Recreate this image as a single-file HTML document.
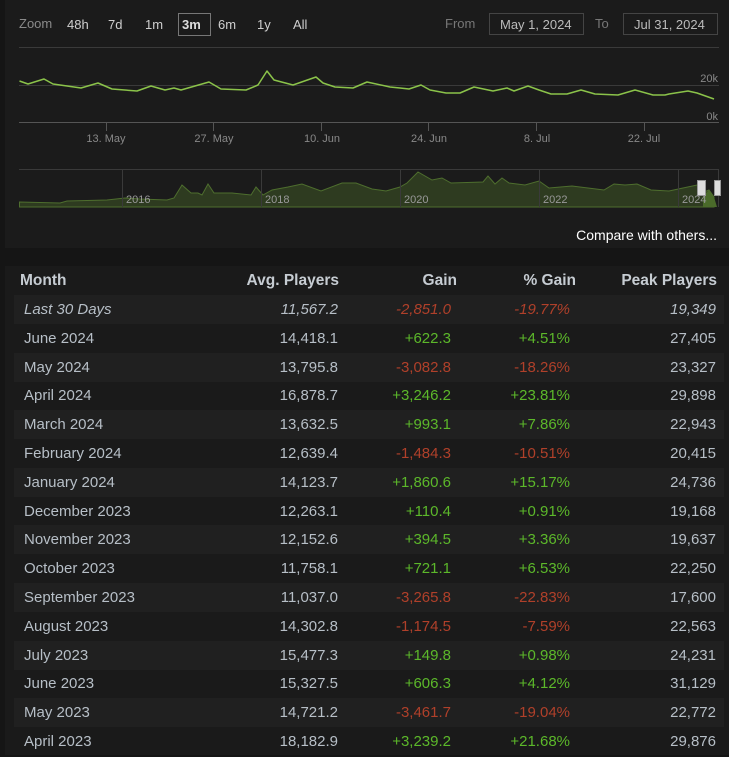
<!DOCTYPE html>
<html><head><meta charset="utf-8"><style>
body{margin:0;width:729px;height:755px;background:#151515;font-family:"Liberation Sans",sans-serif;overflow:hidden;position:relative}
.chart{position:absolute;left:5px;top:0;width:724px;height:248px;background:#1b1b1b}
.tbl{position:absolute;left:5px;top:266px;width:724px;height:489px;background:#1a1a1a}
.row{position:absolute;left:14px;width:710px;height:29px;font-size:15px;color:#b7bfc7;line-height:30px}
.row.l{background:#202020}
.row span{position:absolute;top:0}
.hd{font-weight:bold;color:#c6ccd2;font-size:15.5px}
.g{color:#5cb82a}.r{color:#b0402a}
</style></head><body>
<div class="chart"></div>
<svg style="position:absolute;left:0;top:0" width="729" height="250" font-family="Liberation Sans, sans-serif">
<g font-size="13" fill="#8a8a8a"><text x="19" y="28">Zoom</text></g>
<g font-size="13" fill="#cfcfcf"><text x="67" y="29">48h</text><text x="108" y="29">7d</text><text x="145" y="29">1m</text><text x="218" y="29">6m</text><text x="257" y="29">1y</text><text x="293" y="29">All</text></g>
<rect x="178.5" y="13.5" width="32" height="22" fill="none" stroke="#777"/>
<text x="182" y="29" font-size="13" font-weight="bold" fill="#ddd">3m</text>
<text x="445" y="28" font-size="13" fill="#777">From</text>
<rect x="489.5" y="13.5" width="94" height="21" fill="none" stroke="#444"/>
<text x="500" y="29" font-size="13" fill="#bbb">May 1, 2024</text>
<text x="595" y="28" font-size="13" fill="#777">To</text>
<rect x="623.5" y="13.5" width="94" height="21" fill="none" stroke="#444"/>
<text x="634" y="29" font-size="13" fill="#bbb">Jul 31, 2024</text>
<line x1="19" y1="47.5" x2="719" y2="47.5" stroke="#3a3a3a"/>
<line x1="19" y1="85.5" x2="719" y2="85.5" stroke="#3a3a3a"/>
<line x1="19" y1="122.5" x2="719" y2="122.5" stroke="#555"/>
<text x="718" y="82" font-size="11" fill="#888" text-anchor="end">20k</text>
<text x="718" y="120" font-size="11" fill="#888" text-anchor="end">0k</text>
<g stroke="#555"><line x1="106.5" y1="123" x2="106.5" y2="131"/><line x1="213.5" y1="123" x2="213.5" y2="131"/><line x1="321.5" y1="123" x2="321.5" y2="131"/><line x1="428.5" y1="123" x2="428.5" y2="131"/><line x1="536.5" y1="123" x2="536.5" y2="131"/><line x1="644.5" y1="123" x2="644.5" y2="131"/></g>
<g font-size="11" fill="#888" text-anchor="middle"><text x="106" y="142">13. May</text><text x="214" y="142">27. May</text><text x="322" y="142">10. Jun</text><text x="429" y="142">24. Jun</text><text x="537" y="142">8. Jul</text><text x="644" y="142">22. Jul</text></g>
<polyline fill="none" stroke="#8bc34a" stroke-width="1.5" stroke-linejoin="round" points="19.5,81 28,84 44,79 53,84 81,88 98,83 112,89 137,91 151,86 165,90 174,88 181,90 209,82 221,89 246,90 258,85 267,71 274,80 293,85 316,77 323,83 335,87 353,88 367,82 390,87 400,88 409,89 421,85 430,90 446,93 460,93 474,87 493,91 507,88 514,91 528,86 539,90 551,94 567,94 581,90 595,94 618,95 635,90 653,95 665,95 669,94 688,91 697,93 714,99"/>
<line x1="19" y1="169.5" x2="719" y2="169.5" stroke="#3a3a3a"/>
<path fill="#2e3b20" stroke="#4e6e2e" d="M19.5,207 L19.5,202 60,203 67,201 107,200 125,198 140,199 167,200 174,198 182,185 191,193 198,193 202,195 208,184 214,193 232,193 251,195 256,187 263,195 272,190 288,187 302,184 321,191 342,183 356,183 372,189 386,191 400,187 407,183 418,172 432,180 442,178 451,183 483,182 488,176 495,184 502,178 509,183 525,185 539,181 549,188 572,186 604,190 614,184 625,185 637,184 651,190 669,191 683,188 697,185 704,192 709,190 714,197 L714,207 Z"/>
<path fill="#4a6a2a" d="M703,207 L703,196 709,190 714,197 L717,207 Z"/>
<g stroke="#3a3a3a"><line x1="122.5" y1="170" x2="122.5" y2="207"/><line x1="261.5" y1="170" x2="261.5" y2="207"/><line x1="400.5" y1="170" x2="400.5" y2="207"/><line x1="539.5" y1="170" x2="539.5" y2="207"/><line x1="678.5" y1="170" x2="678.5" y2="207"/><line x1="718.5" y1="170" x2="718.5" y2="207"/></g>
<g font-size="11" fill="#999"><text x="126" y="203">2016</text><text x="265" y="203">2018</text><text x="404" y="203">2020</text><text x="543" y="203">2022</text><text x="682" y="203">2024</text></g>
<rect x="697.5" y="180.5" width="8" height="15" fill="#ddd" stroke="#999"/>
<rect x="714.5" y="180.5" width="6" height="15" fill="#ddd" stroke="#999"/>
<text x="717" y="240" font-size="14" fill="#fff" text-anchor="end">Compare with others...</text>
</svg>
<div class="tbl"></div>
<div class="row hd" style="top:266px"><span style="left:6px">Month</span><span style="right:385px">Avg. Players</span><span style="right:267px">Gain</span><span style="right:148px">% Gain</span><span style="right:7px">Peak Players</span></div>
<div class="row l" style="top:295px;font-style:italic"><span style="left:10px">Last 30 Days</span><span style="right:386px">11,567.2</span><span class="r" style="right:273px">-2,851.0</span><span class="r" style="right:154px">-19.77%</span><span style="right:8px">19,349</span></div>
<div class="row" style="top:324px"><span style="left:10px">June 2024</span><span style="right:386px">14,418.1</span><span class="g" style="right:273px">+622.3</span><span class="g" style="right:154px">+4.51%</span><span style="right:8px">27,405</span></div>
<div class="row l" style="top:353px"><span style="left:10px">May 2024</span><span style="right:386px">13,795.8</span><span class="r" style="right:273px">-3,082.8</span><span class="r" style="right:154px">-18.26%</span><span style="right:8px">23,327</span></div>
<div class="row" style="top:381px"><span style="left:10px">April 2024</span><span style="right:386px">16,878.7</span><span class="g" style="right:273px">+3,246.2</span><span class="g" style="right:154px">+23.81%</span><span style="right:8px">29,898</span></div>
<div class="row l" style="top:410px"><span style="left:10px">March 2024</span><span style="right:386px">13,632.5</span><span class="g" style="right:273px">+993.1</span><span class="g" style="right:154px">+7.86%</span><span style="right:8px">22,943</span></div>
<div class="row" style="top:439px"><span style="left:10px">February 2024</span><span style="right:386px">12,639.4</span><span class="r" style="right:273px">-1,484.3</span><span class="r" style="right:154px">-10.51%</span><span style="right:8px">20,415</span></div>
<div class="row l" style="top:468px"><span style="left:10px">January 2024</span><span style="right:386px">14,123.7</span><span class="g" style="right:273px">+1,860.6</span><span class="g" style="right:154px">+15.17%</span><span style="right:8px">24,736</span></div>
<div class="row" style="top:497px"><span style="left:10px">December 2023</span><span style="right:386px">12,263.1</span><span class="g" style="right:273px">+110.4</span><span class="g" style="right:154px">+0.91%</span><span style="right:8px">19,168</span></div>
<div class="row l" style="top:525px"><span style="left:10px">November 2023</span><span style="right:386px">12,152.6</span><span class="g" style="right:273px">+394.5</span><span class="g" style="right:154px">+3.36%</span><span style="right:8px">19,637</span></div>
<div class="row" style="top:554px"><span style="left:10px">October 2023</span><span style="right:386px">11,758.1</span><span class="g" style="right:273px">+721.1</span><span class="g" style="right:154px">+6.53%</span><span style="right:8px">22,250</span></div>
<div class="row l" style="top:583px"><span style="left:10px">September 2023</span><span style="right:386px">11,037.0</span><span class="r" style="right:273px">-3,265.8</span><span class="r" style="right:154px">-22.83%</span><span style="right:8px">17,600</span></div>
<div class="row" style="top:612px"><span style="left:10px">August 2023</span><span style="right:386px">14,302.8</span><span class="r" style="right:273px">-1,174.5</span><span class="r" style="right:154px">-7.59%</span><span style="right:8px">22,563</span></div>
<div class="row l" style="top:641px"><span style="left:10px">July 2023</span><span style="right:386px">15,477.3</span><span class="g" style="right:273px">+149.8</span><span class="g" style="right:154px">+0.98%</span><span style="right:8px">24,231</span></div>
<div class="row" style="top:669px"><span style="left:10px">June 2023</span><span style="right:386px">15,327.5</span><span class="g" style="right:273px">+606.3</span><span class="g" style="right:154px">+4.12%</span><span style="right:8px">31,129</span></div>
<div class="row l" style="top:698px"><span style="left:10px">May 2023</span><span style="right:386px">14,721.2</span><span class="r" style="right:273px">-3,461.7</span><span class="r" style="right:154px">-19.04%</span><span style="right:8px">22,772</span></div>
<div class="row" style="top:727px"><span style="left:10px">April 2023</span><span style="right:386px">18,182.9</span><span class="g" style="right:273px">+3,239.2</span><span class="g" style="right:154px">+21.68%</span><span style="right:8px">29,876</span></div>
</body></html>
